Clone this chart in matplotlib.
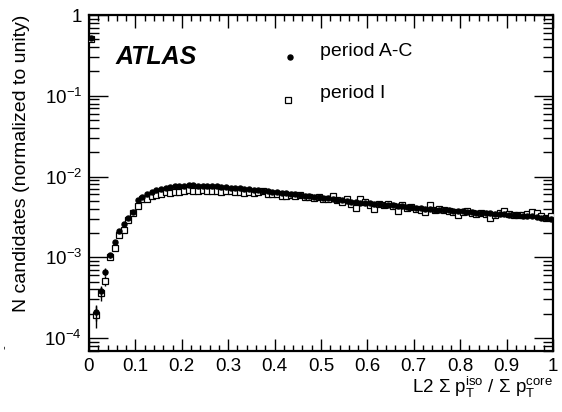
import matplotlib
matplotlib.use("Agg")
import matplotlib.pyplot as plt
from matplotlib.lines import Line2D
from matplotlib.ticker import FixedLocator, FuncFormatter, LogLocator, NullFormatter
import numpy as np

plt.rcParams['font.family'] = ['Liberation Sans', 'DejaVu Sans']
plt.rcParams['mathtext.fontset'] = 'custom'
plt.rcParams['mathtext.rm'] = 'Liberation Sans'
plt.rcParams['mathtext.it'] = 'Liberation Sans:italic'
plt.rcParams['mathtext.bf'] = 'Liberation Sans:bold'

# data
#---------------------------------------------------------------------------
bin_centers = np.arange(100) * 0.01 + 0.005

period_AC = [
    0.52, 2.1e-4, 3.8e-4, 6.6e-4, 1.06e-3, 1.55e-3, 2.1e-3, 2.6e-3, 3.1e-3, 3.6e-3,
    5.05e-3, 5.55e-3, 6.0e-3, 6.5e-3, 6.9e-3, 7.1e-3, 7.3e-3, 7.45e-3, 7.55e-3, 7.65e-3,
    7.7e-3, 7.75e-3, 7.75e-3, 7.7e-3, 7.7e-3, 7.65e-3, 7.6e-3, 7.55e-3, 7.5e-3, 7.4e-3,
    7.3e-3, 7.25e-3, 7.15e-3, 7.05e-3, 6.95e-3, 6.85e-3, 6.75e-3, 6.65e-3, 6.55e-3, 6.45e-3,
    6.35e-3, 6.3e-3, 6.2e-3, 6.1e-3, 6.0e-3, 5.9e-3, 5.8e-3, 5.7e-3, 5.6e-3, 5.5e-3,
    5.45e-3, 5.35e-3, 5.25e-3, 5.15e-3, 5.05e-3, 5.0e-3, 4.9e-3, 4.85e-3, 4.75e-3, 4.7e-3,
    4.65e-3, 4.6e-3, 4.55e-3, 4.5e-3, 4.45e-3, 4.4e-3, 4.35e-3, 4.3e-3, 4.2e-3, 4.15e-3,
    4.1e-3, 4.05e-3, 4.0e-3, 3.95e-3, 3.9e-3, 3.88e-3, 3.85e-3, 3.8e-3, 3.75e-3, 3.72e-3,
    3.7e-3, 3.65e-3, 3.6e-3, 3.58e-3, 3.55e-3, 3.52e-3, 3.5e-3, 3.45e-3, 3.42e-3, 3.4e-3,
    3.38e-3, 3.35e-3, 3.3e-3, 3.28e-3, 3.25e-3, 3.2e-3, 3.15e-3, 3.1e-3, 3.05e-3, 3.0e-3,
]

period_I = [
    0.5, 1.9e-4, 3.6e-4, 5.1e-4, 1.02e-3, 1.3e-3, 1.87e-3, 2.15e-3, 2.9e-3, 3.5e-3,
    4.3e-3, 5.2e-3, 5.2e-3, 5.7e-3, 5.95e-3, 6.1e-3, 6.4e-3, 6.3e-3, 6.5e-3, 6.5e-3,
    6.6e-3, 6.8e-3, 6.6e-3, 6.7e-3, 6.75e-3, 6.65e-3, 6.6e-3, 6.7e-3, 6.5e-3, 6.55e-3,
    6.6e-3, 6.4e-3, 6.45e-3, 6.2e-3, 6.35e-3, 6.3e-3, 6.35e-3, 6.7e-3, 6.0e-3, 6.05e-3,
    6.1e-3, 5.8e-3, 5.7e-3, 5.9e-3, 5.75e-3, 5.85e-3, 5.6e-3, 5.55e-3, 5.4e-3, 5.5e-3,
    5.2e-3, 5.3e-3, 5.7e-3, 5.1e-3, 4.9e-3, 5.2e-3, 4.6e-3, 4.1e-3, 5.2e-3, 4.8e-3,
    4.5e-3, 4.0e-3, 4.6e-3, 4.4e-3, 4.6e-3, 4.3e-3, 3.7e-3, 4.5e-3, 4.1e-3, 4.2e-3,
    4.0e-3, 3.9e-3, 3.6e-3, 4.4e-3, 3.9e-3, 4.0e-3, 3.8e-3, 3.7e-3, 3.6e-3, 3.3e-3,
    3.6e-3, 3.7e-3, 3.5e-3, 3.4e-3, 3.5e-3, 3.4e-3, 3.1e-3, 3.3e-3, 3.55e-3, 3.75e-3,
    3.4e-3, 3.3e-3, 3.35e-3, 3.3e-3, 3.4e-3, 3.6e-3, 3.5e-3, 3.2e-3, 3.1e-3, 3.2e-3,
]

# relative errors, only visible for the first few bins
rel_err_AC = [0.02, 0.22, 0.15, 0.1, 0.07, 0.05] + [0.0] * 94
rel_err_I = [0.02, 0.3, 0.2, 0.14, 0.09, 0.07] + [0.0] * 94


#plot
#---------------------------------------------------------------------------
fig = plt.figure(figsize=(5.62, 4.12), dpi=100)
ax = fig.add_axes([89 / 562, 1 - 351 / 412, (553 - 89) / 562, (351 - 15) / 412])

yAC = np.array(period_AC)
yI = np.array(period_I)
ax.errorbar(bin_centers, yI, yerr=yI * np.array(rel_err_I), fmt='s', ms=4.2,
            mfc='white', mec='black', mew=0.9, ecolor='black', elinewidth=1.0,
            capsize=0, zorder=3)
ax.errorbar(bin_centers, yAC, yerr=yAC * np.array(rel_err_AC), fmt='o', ms=3.6,
            mfc='black', mec='black', ecolor='black', elinewidth=1.0,
            capsize=0, zorder=4)

ax.set_yscale('log')
ax.set_xlim(0, 1)
ax.set_ylim(10 ** (-4 - 13 / 80.75), 1)

ax.xaxis.set_major_locator(FixedLocator(np.arange(0, 1.01, 0.1)))
ax.xaxis.set_minor_locator(FixedLocator(np.arange(0, 1.001, 0.02)))
ax.xaxis.set_major_formatter(FuncFormatter(lambda v, p: '%g' % round(v, 1)))

ax.yaxis.set_major_locator(FixedLocator([1e-4, 1e-3, 1e-2, 1e-1, 1]))
ax.yaxis.set_minor_locator(LogLocator(base=10, subs=np.arange(2, 10), numticks=20))
ax.yaxis.set_minor_formatter(NullFormatter())


def ylab(v, p):
    if v >= 1:
        return '1'
    return r'$10^{%d}$' % int(round(np.log10(v)))


ax.yaxis.set_major_formatter(FuncFormatter(ylab))

ax.tick_params(which='both', direction='in', top=True, right=True,
               labelsize=13.5, width=1.0, color='black')
ax.tick_params(axis='x', which='major', length=9, pad=5)
ax.tick_params(axis='x', which='minor', length=4.5)
ax.tick_params(axis='y', which='major', length=14, pad=5)
ax.tick_params(axis='y', which='minor', length=7)
for s in ax.spines.values():
    s.set_linewidth(1.6)

ax.text(0.058, 0.875, 'ATLAS', fontsize=18, fontweight='bold', fontstyle='italic',
        va='center', ha='left', transform=ax.transAxes)

# legend drawn by hand to match the ROOT layout
ax.add_line(Line2D([0.433], [0.875], marker='o', ms=3.6, color='black',
                   linestyle='none', transform=ax.transAxes))
ax.add_line(Line2D([0.429], [0.747], marker='s', ms=4.2, mfc='white', mec='black',
                   mew=0.9, linestyle='none', transform=ax.transAxes))
ax.text(0.498, 0.89, 'period A-C', fontsize=14, va='center', ha='left',
        transform=ax.transAxes)
ax.text(0.498, 0.765, 'period I', fontsize=14, va='center', ha='left',
        transform=ax.transAxes)

fig.text(22 / 562, 1 - 15 / 412, 'N candidates (normalized to unity)', rotation=90,
         fontsize=14, ha='center', va='top')
fig.text(553 / 562, 1 - 387 / 412,
         r'L2 $\Sigma$ p$_{\mathrm{T}}^{\mathrm{iso}}$ / $\Sigma$ p$_{\mathrm{T}}^{\mathrm{core}}$',
         fontsize=13.5, ha='right', va='center')
# small stray mark at the lower left of the original figure
fig.text(5 / 562, 1 - 347 / 412, '-', rotation=90, fontsize=8, ha='center', va='center')

fig.savefig('out.png', dpi=100)
